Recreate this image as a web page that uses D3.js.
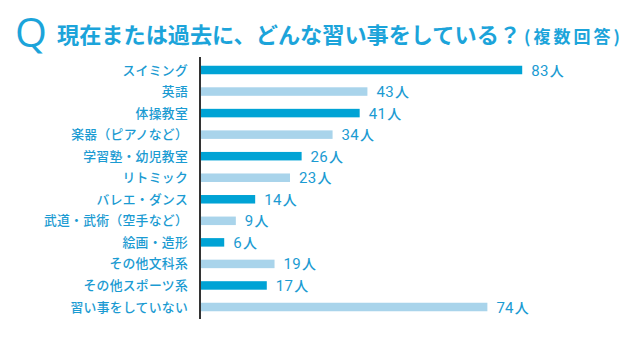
<!DOCTYPE html>
<html>
<head>
<meta charset="utf-8">
<script src="https://cdn.jsdelivr.net/npm/d3@7"></script>
<style>
  body { margin: 0; background: #fff; }
  svg { display: block; }
</style>
</head>
<body>
<svg id="canvas"></svg>
<script>
// data
const categories = [
    "スイミング", "英語", "体操教室", "楽器（ピアノなど）", "学習塾・幼児教室", "リトミック",
    "バレエ・ダンス", "武道・武術（空手など）", "絵画・造形", "その他文科系", "その他スポーツ系", "習い事をしていない"
];
const counts = [83, 43, 41, 34, 26, 23, 14, 9, 6, 19, 17, 74];
const unit = "人";

const titleMain = "現在または過去に、どんな習い事をしている？";
const titleSub = "(複数回答)";

const width = 640;
const height = 350;
const svg = d3.select("#canvas").attr("width", width).attr("height", height);

const jp = "'Noto Sans CJK JP', 'Noto Sans', sans-serif";
const darkBlue = "#00a3d5";
const lightBlue = "#a9d4eb";
const textBlue = "#1b9bd2";

// scales
const axisX = 200;
const xScale = d3.scaleLinear()
    .domain([0, 100])
    .range([axisX + 1, axisX + 1 + 387]);

const yScale = d3.scalePoint()
    .domain(categories)
    .range([70, 307]);

const barH = 8.5;

// title
svg.append("text")
    .attr("x", 15)
    .attr("y", 47)
    .attr("font-family", "'Open Sans', 'Noto Sans', sans-serif")
    .attr("font-size", 41)
    .attr("font-weight", 400)
    .attr("fill", "#1ca4da")
    .text("Q");

svg.append("text")
    .attr("x", 57)
    .attr("y", 43)
    .attr("font-family", jp)
    .attr("font-size", 22)
    .attr("font-weight", 700)
    .attr("fill", "#1ca4da")
    .attr("textLength", 464)
    .attr("lengthAdjust", "spacingAndGlyphs")
    .text(titleMain);

svg.append("text")
    .attr("x", 524)
    .attr("y", 43)
    .attr("font-family", jp)
    .attr("font-size", 17)
    .attr("font-weight", 700)
    .attr("fill", "#1ca4da")
    .attr("textLength", 96)
    .attr("lengthAdjust", "spacing")
    .text(titleSub);

// bars, alternating dark / light
svg.selectAll("rect.bar")
    .data(counts)
    .join("rect")
    .attr("class", "bar")
    .attr("x", xScale(0))
    .attr("y", (d, i) => yScale(categories[i]) - barH / 2)
    .attr("width", d => xScale(d) - xScale(0))
    .attr("height", barH)
    .attr("fill", (d, i) => i % 2 === 0 ? darkBlue : lightBlue);

// vertical axis line
svg.append("line")
    .attr("x1", axisX)
    .attr("x2", axisX)
    .attr("y1", 57)
    .attr("y2", 319)
    .attr("stroke", "#333")
    .attr("stroke-width", 2);

// category labels
svg.selectAll("text.cat")
    .data(categories)
    .join("text")
    .attr("class", "cat")
    .attr("x", 188)
    .attr("y", d => yScale(d) + 4.5)
    .attr("text-anchor", "end")
    .attr("font-family", jp)
    .attr("font-size", 12.8)
    .attr("font-weight", 500)
    .attr("letter-spacing", 0.3)
    .attr("fill", textBlue)
    .text(d => d);

// value labels
const valueLabels = svg.selectAll("text.val")
    .data(counts)
    .join("text")
    .attr("class", "val")
    .attr("x", d => xScale(d) + 9)
    .attr("y", (d, i) => yScale(categories[i]) + 5.5)
    .attr("font-family", jp)
    .attr("fill", textBlue);

valueLabels.append("tspan")
    .attr("font-family", "Roboto, 'Liberation Sans', sans-serif")
    .attr("font-size", 15)
    .attr("letter-spacing", 0.3)
    .text(d => d);

valueLabels.append("tspan")
    .attr("font-size", 14)
    .attr("font-weight", 500)
    .attr("dx", 1)
    .text(unit);
</script>
</body>
</html>
